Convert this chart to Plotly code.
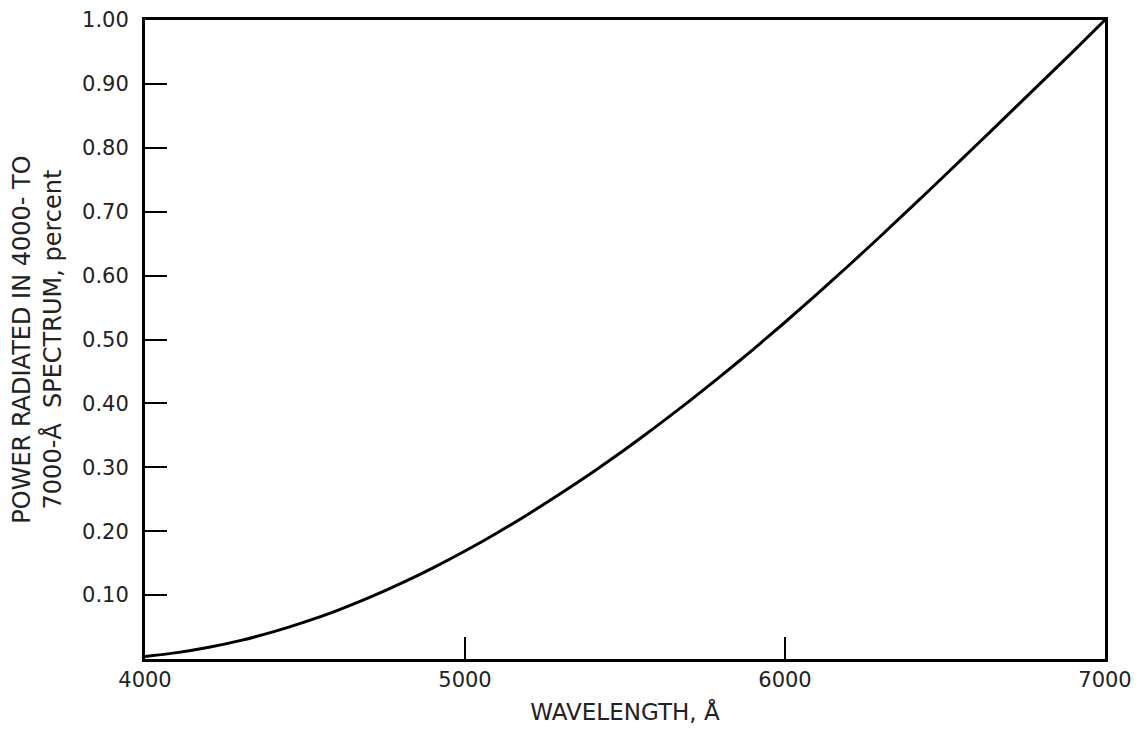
import plotly.graph_objects as go

wavelength = [4000, 4100, 4200, 4300, 4400, 4500, 4600, 4700, 4800, 4900, 5000,
              5100, 5200, 5300, 5400, 5500, 5600, 5700, 5800, 5900, 6000,
              6100, 6200, 6300, 6400, 6500, 6600, 6700, 6800, 6900, 7000]
power = [0.004, 0.010, 0.0184, 0.0292, 0.0424, 0.058, 0.0758, 0.0959, 0.1182, 0.1426, 0.169,
         0.1973, 0.2274, 0.2593, 0.2928, 0.328, 0.3648, 0.4032, 0.443, 0.4843, 0.527,
         0.571, 0.6162, 0.6624, 0.7094, 0.757, 0.8051, 0.8534, 0.902, 0.9506, 1.000]

x_ticks = [4000, 5000, 6000, 7000]
x_labels = ["4000", "5000", "6000", "7000"]
y_ticks = [0.1, 0.2, 0.3, 0.4, 0.5, 0.6, 0.7, 0.8, 0.9, 1.0]
y_labels = ["0.10", "0.20", "0.30", "0.40", "0.50", "0.60", "0.70", "0.80", "0.90", "1.00"]

fig = go.Figure()
fig.add_trace(go.Scatter(
    x=wavelength, y=power, mode="lines",
    line=dict(color="black", width=3, shape="spline", smoothing=0.6),
    showlegend=False, hoverinfo="skip"))

font_family = "DejaVu Sans, Verdana, sans-serif"
# the page body adds an 8px offset, so the figure is made 16px smaller
fig.update_layout(
    width=1127, height=717,
    margin=dict(l=137, r=30, t=12, b=66, autoexpand=False),
    paper_bgcolor="white", plot_bgcolor="white",
    font=dict(family=font_family, size=21, color="#222222"),
)
fig.update_xaxes(
    range=[4000, 7000], tickvals=x_ticks, ticktext=x_labels,
    ticks="inside", ticklen=22, tickwidth=2, tickcolor="black",
    showline=True, linecolor="black", linewidth=3, mirror=True,
    showgrid=False, zeroline=False, automargin=False,
    tickfont=dict(size=21), ticklabelstandoff=0, ticklabeloverflow="allow",
    title=dict(text="WAVELENGTH, Å", font=dict(size=23), standoff=14),
)
fig.update_yaxes(
    range=[0, 1.0], tickvals=y_ticks, ticktext=y_labels,
    ticks="inside", ticklen=22, tickwidth=2, tickcolor="black",
    showline=True, linecolor="black", linewidth=3, mirror=True,
    showgrid=False, zeroline=False, automargin=False,
    tickfont=dict(size=21), ticklabelstandoff=9, ticklabeloverflow="allow",
    title=dict(text="POWER RADIATED IN 4000- TO<br>7000-Å  SPECTRUM, percent",
               font=dict(size=24), standoff=22),
)
fig.write_html("out.html")
